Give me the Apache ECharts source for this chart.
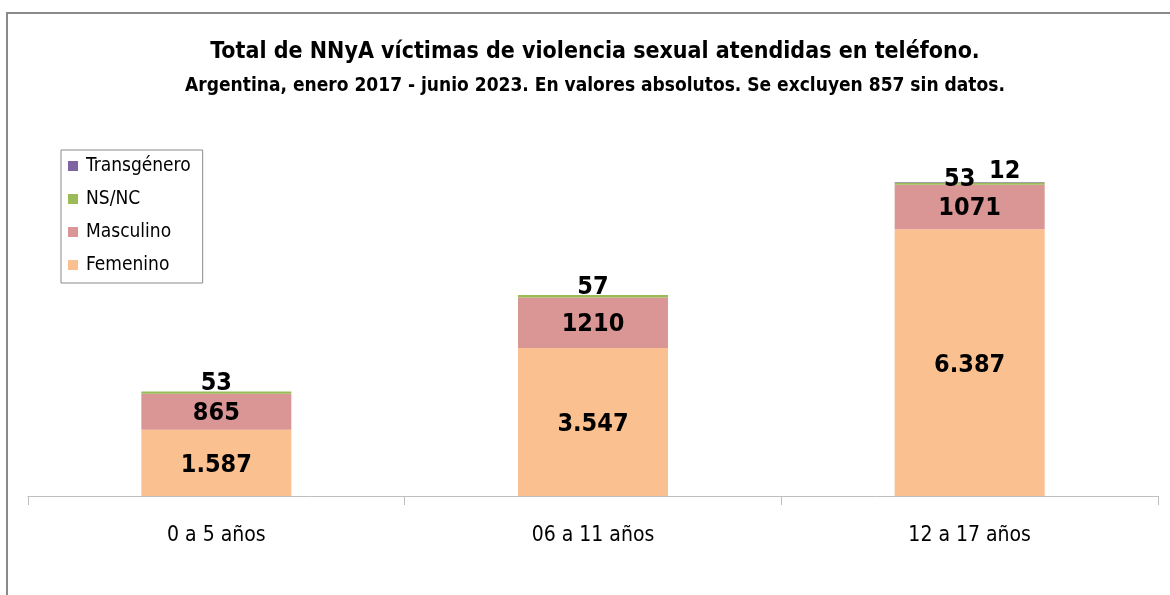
<!DOCTYPE html>
<html>
<head>
<meta charset="utf-8">
<script src="https://cdn.jsdelivr.net/npm/echarts@6/dist/echarts.min.js"></script>
<style>
  html, body { margin: 0; padding: 0; background: #fff; }
  #chart { width: 1170px; height: 595px; }
</style>
</head>
<body>
<div id="chart"></div>
<script>
var categorias = ['0 a 5 años', '06 a 11 años', '12 a 17 años'];
var femenino = [1587, 3547, 6387];
var masculino = [865, 1210, 1071];
var nsnc = [53, 57, 53];
var transgenero = [0, 0, 12];

var fuente = "'Liberation Sans Narrow', 'DejaVu Sans Condensed', sans-serif";

function miles(v) {
    return String(v).replace(/\B(?=(\d{3})+(?!\d))/g, '.');
}

var etiqueta = {
    show: true,
    color: '#000',
    fontSize: 25,
    fontWeight: 'bold',
    fontFamily: fuente
};

var myChart = echarts.init(document.getElementById('chart'));
var option = {
    animation: false,
    backgroundColor: '#fff',
    textStyle: { fontFamily: fuente },
    graphic: [{
        type: 'rect',
        shape: { x: 7, y: 13, width: 1300, height: 700 },
        style: { fill: 'none', stroke: '#8a8a8a', lineWidth: 2 },
        silent: true
    }],
    title: {
        text: 'Total de NNyA víctimas de violencia sexual atendidas en teléfono.',
        subtext: 'Argentina, enero 2017 - junio 2023. En valores absolutos. Se excluyen 857 sin datos.',
        left: 590,
        textAlign: 'center',
        top: 36,
        itemGap: 13,
        textStyle: { fontFamily: fuente, fontSize: 23, fontWeight: 'bold', color: '#000' },
        subtextStyle: { fontFamily: fuente, fontSize: 19, fontWeight: 'bold', color: '#000' }
    },
    legend: {
        orient: 'vertical',
        left: 61,
        top: 150,
        width: 142,
        padding: [6, 12, 8, 7],
        itemGap: 13,
        itemWidth: 10,
        itemHeight: 10,
        borderColor: '#8a8a8a',
        borderWidth: 1,
        data: ['Transgénero', 'NS/NC', 'Masculino', 'Femenino'],
        icon: 'rect',
        textStyle: { fontFamily: fuente, fontSize: 19, color: '#000', lineHeight: 20, padding: [0, 0, 0, 3] }
    },
    grid: { left: 28, right: 12, top: 162, bottom: 99 },
    xAxis: {
        type: 'category',
        data: categorias,
        axisLine: { lineStyle: { color: '#bfbfbf', width: 1 } },
        axisTick: { show: true, length: 9, lineStyle: { color: '#bfbfbf' } },
        axisLabel: { color: '#000', fontSize: 21, fontFamily: fuente, margin: 29 }
    },
    yAxis: {
        type: 'value',
        min: 0,
        max: 8000,
        show: false,
        splitLine: { show: false }
    },
    series: [
        {
            name: 'Femenino', type: 'bar', stack: 'total', barWidth: 150,
            itemStyle: { color: '#fac090' },
            data: femenino,
            label: Object.assign({}, etiqueta, {
                position: 'inside',
                offset: [0, 3],
                formatter: function (p) { return miles(p.value); }
            })
        },
        {
            name: 'Masculino', type: 'bar', stack: 'total',
            itemStyle: { color: '#d99694' },
            data: masculino,
            label: Object.assign({}, etiqueta, { position: 'inside', offset: [0, 2] })
        },
        {
            name: 'NS/NC', type: 'bar', stack: 'total',
            itemStyle: { color: '#9bbb59' },
            data: nsnc.map(function (v, i) {
                return i === 2 ? { value: v, label: { offset: [-10, 5] } } : v;
            }),
            label: Object.assign({}, etiqueta, { position: 'top', distance: -5 })
        },
        {
            name: 'Transgénero', type: 'bar', stack: 'total',
            itemStyle: { color: '#8064a2' },
            data: transgenero,
            label: Object.assign({}, etiqueta, {
                position: 'top',
                distance: -2,
                offset: [35, 0],
                formatter: function (p) { return p.value ? p.value : ''; }
            })
        }
    ]
};
myChart.setOption(option);
</script>
</body>
</html>
